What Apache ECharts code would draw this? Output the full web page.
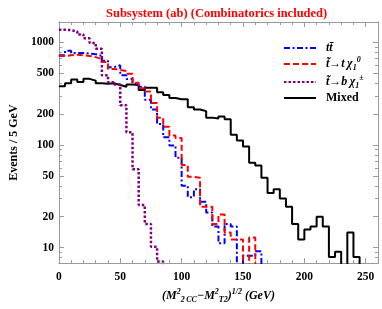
<!DOCTYPE html>
<html><head><meta charset="utf-8">
<script src="https://cdn.jsdelivr.net/npm/echarts@6/dist/echarts.min.js"></script>
<style>html,body{margin:0;padding:0;background:#fff}#c{width:382px;height:309px}</style>
</head><body><div id="c"></div>
<script>
// Histogram bin width (GeV); each array starts at x = 0
const binWidth = 5;
const ttbar   = [750, 830, 790, 790, 780, 770, 740, 663, 575, 600, 480, 440, 400, 370, 276, 222, 160, 119, 99, 75, 40, 31, 37, 28, 22, 16, 11, 17, 16, 0, 8.3, 8.3, 9.2];
const stopT   = [740, 750, 760, 750, 740, 720, 690, 645, 553, 540, 526, 496, 404, 357, 332, 257, 185, 151, 124, 117, 64, 49, 48, 25, 25, 17, 21, 14, 12, 12, 0, 12.5];
const stopB   = [1330, 1320, 1280, 1200, 1100, 990, 870, 480, 410, 390, 245, 133, 58, 26, 17, 10.2, 7.3];
const mixed   = [375, 400, 435, 413, 442, 425, 400, 395, 400, 385, 370, 390, 385, 345, 362, 362, 327, 308, 287, 280, 280, 234, 222, 214, 185, 181, 190, 178, 126, 111, 97, 67, 63, 48, 34, 37, 30, 25, 17, 12, 15, 16, 20, 16, 8.1, 9.1, 0, 14, 8.1];
const yTickLabels = [10, 20, 50, 100, 200, 500, 1000];
const yMinorTicks = [8, 9, 30, 40, 60, 70, 80, 90, 300, 400, 600, 700, 800, 900];
const xRange = [0, 260];
const yRange = [7.05, 1585];

const L = Math.log10;
function steps(vals) {
  const pts = vals.map((v, i) => [i * binWidth, v > 0 ? L(v) : -1]);
  pts.push([vals.length * binWidth, -1]);
  return pts;
}
const serif = 'Liberation Serif';
const frame = '#9a9a9a';
const chart = echarts.init(document.getElementById('c'));
const yBase = {
  type: 'value', min: L(yRange[0]), max: L(yRange[1]), splitLine: { show: false },
  axisLine: { show: true, lineStyle: { color: frame, width: 1 } }
};
const xBase = {
  type: 'value', min: xRange[0], max: xRange[1], interval: 50, splitLine: { show: false },
  axisLine: { show: true, lineStyle: { color: frame, width: 1 } },
  axisTick: { inside: true, length: 5, lineStyle: { color: frame } },
  minorTick: { show: true, splitNumber: 5, length: 3, lineStyle: { color: frame } }
};
const rich = {
  b: { fontFamily: serif, fontWeight: 'bold', fontSize: 12, lineHeight: 16, color: '#000' },
  i: { fontFamily: serif, fontWeight: 'bold', fontStyle: 'italic', fontSize: 12, lineHeight: 16, color: '#000' },
  sup: { fontFamily: serif, fontWeight: 'bold', fontStyle: 'italic', fontSize: 8, lineHeight: 16, verticalAlign: 'top', color: '#000' },
  sub: { fontFamily: serif, fontWeight: 'bold', fontStyle: 'italic', fontSize: 8, lineHeight: 16, verticalAlign: 'bottom', color: '#000' }
};
const legendText = {
  'ttbar': '{i|tt\u0304}',
  'stopT': '{i|t\u0303\u2192t\u2009\u03c7}{sub|1}{sup|0}',
  'stopB': '{i|t\u0303\u2192b\u2009\u03c7}{sub|1}{sup|\u00b1}',
  'Mixed': '{b|Mixed}'
};
chart.setOption({
  animation: false,
  backgroundColor: '#fff',
  title: {
    text: 'Subsystem (ab) (Combinatorics included)', left: 101, top: 2,
    textStyle: { fontFamily: serif, fontWeight: 'bold', fontSize: 12.5, color: '#ff0000' }
  },
  grid: { left: 49, right: 4, top: 22, bottom: 41, containLabel: false },
  legend: {
    orient: 'vertical', left: 278, top: 37, itemWidth: 32, itemHeight: 12, itemGap: 2,
    data: ['ttbar', 'stopT', 'stopB', 'Mixed'],
    itemStyle: { opacity: 0, borderWidth: 0 },
    formatter: n => legendText[n],
    textStyle: { rich: rich, padding: [0, 0, 0, 5] }
  },
  xAxis: [
    Object.assign({}, xBase, {
      position: 'bottom',
      axisLabel: { margin: 8, fontFamily: serif, fontWeight: 'bold', fontSize: 11.5, color: '#000' },
      name: '{i|(M}{sup|2}{sub|2\u2009CC}{i|\u2212M}{sup|2}{sub|T2}{i|)}{sup|1/2}{i| (GeV)}',
      nameLocation: 'middle', nameGap: 24,
      nameTextStyle: { rich: rich }
    }),
    Object.assign({}, xBase, { position: 'top', axisLabel: { show: false } })
  ],
  yAxis: [
    Object.assign({}, yBase, {
      position: 'left',
      axisTick: { inside: true, length: 5, customValues: yTickLabels.map(L), lineStyle: { color: frame } },
      axisLabel: { customValues: yTickLabels.map(L), formatter: v => String(Math.round(Math.pow(10, v))),
        margin: 5, fontFamily: serif, fontWeight: 'bold', fontSize: 11.5, color: '#000' },
      name: 'Events / 5 GeV', nameLocation: 'middle', nameGap: 36,
      nameTextStyle: { fontFamily: serif, fontWeight: 'bold', fontSize: 12, color: '#000' }
    }),
    Object.assign({}, yBase, {
      position: 'left', axisLabel: { show: false },
      axisTick: { inside: true, length: 3, customValues: yMinorTicks.map(L), lineStyle: { color: frame } }
    }),
    Object.assign({}, yBase, {
      position: 'right', axisLabel: { show: false },
      axisTick: { inside: true, length: 5, customValues: yTickLabels.map(L), lineStyle: { color: frame } }
    }),
    Object.assign({}, yBase, {
      position: 'right', axisLabel: { show: false },
      axisTick: { inside: true, length: 3, customValues: yMinorTicks.map(L), lineStyle: { color: frame } }
    })
  ],
  series: [
    { name: 'ttbar', type: 'line', step: 'end', symbol: 'none', clip: true, data: steps(ttbar),
      color: '#0000ff', lineStyle: { color: '#0000ff', width: 2, type: [6, 2.5, 2, 2.5] }, z: 3 },
    { name: 'stopT', type: 'line', step: 'end', symbol: 'none', clip: true, data: steps(stopT),
      color: '#ff0000', lineStyle: { color: '#ff0000', width: 2, type: [6, 3] }, z: 4 },
    { name: 'stopB', type: 'line', step: 'end', symbol: 'none', clip: true, data: steps(stopB),
      color: '#800080', lineStyle: { color: '#800080', width: 2.5, type: [2.5, 2] }, z: 2 },
    { name: 'Mixed', type: 'line', step: 'end', symbol: 'none', clip: true, data: steps(mixed),
      color: '#000000', lineStyle: { color: '#000000', width: 2 }, z: 1 }
  ]
});
</script></body></html>
